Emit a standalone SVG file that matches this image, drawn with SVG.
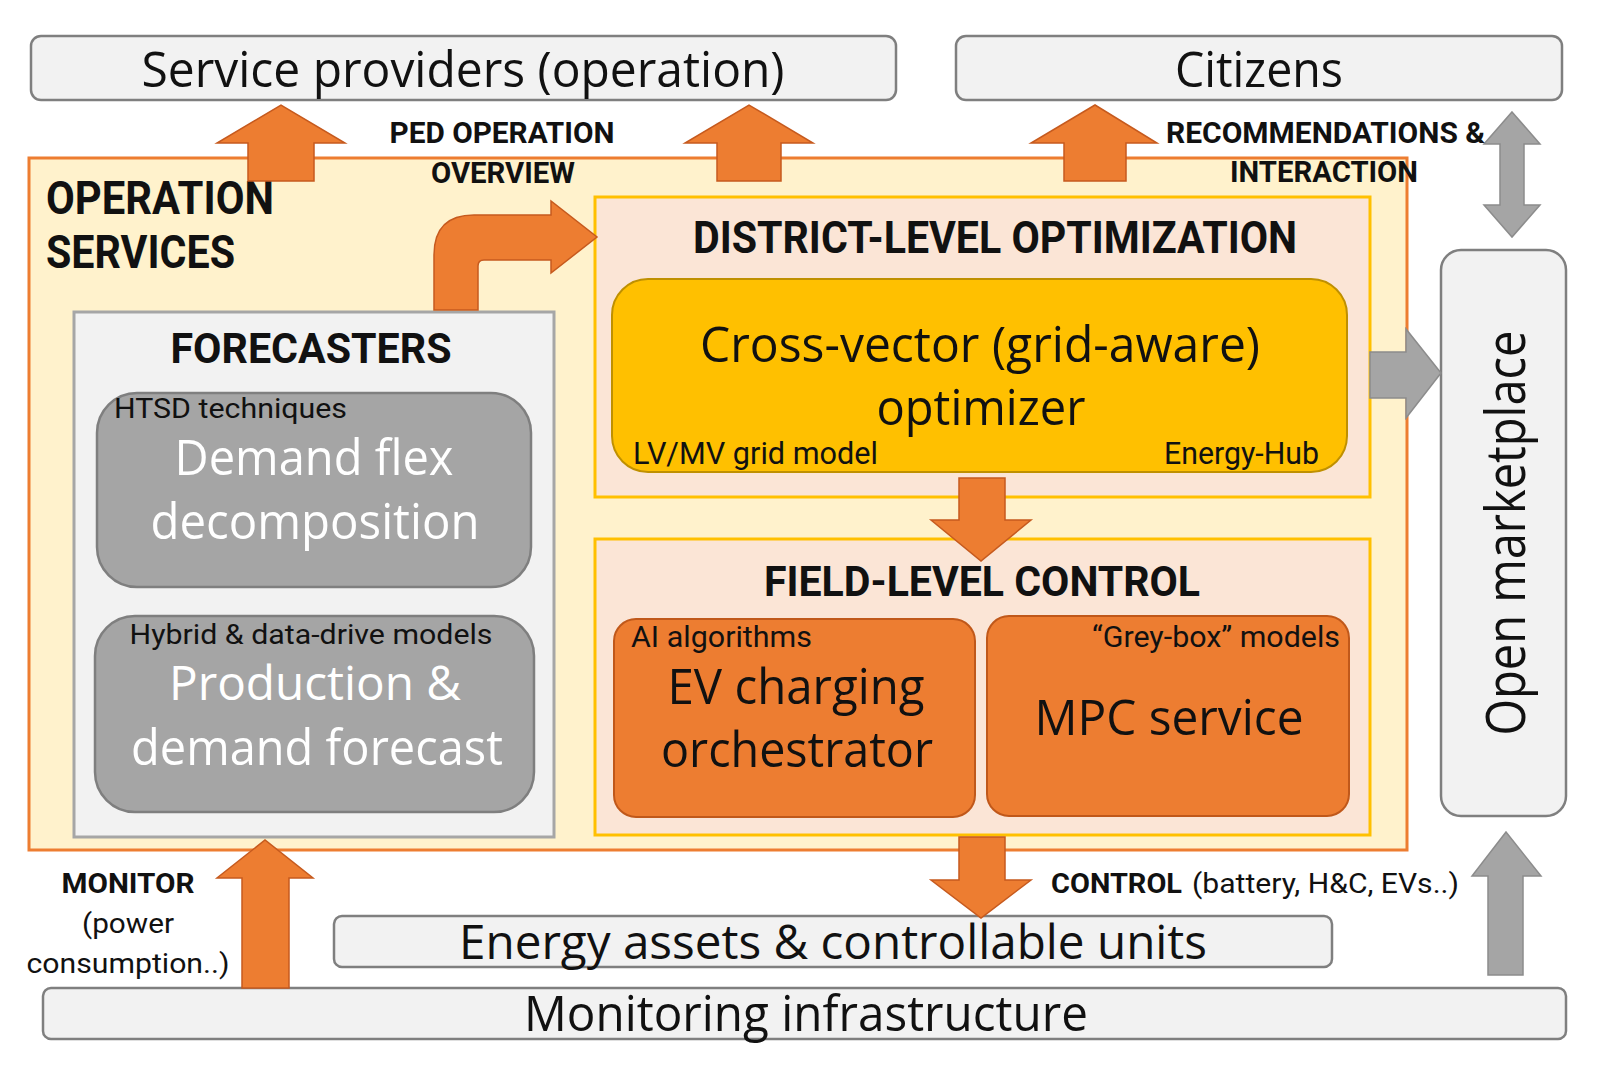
<svg xmlns="http://www.w3.org/2000/svg" width="1600" height="1068" viewBox="0 0 1600 1068">
<style>
.cal{font-family:'Open Sans','Noto Sans','Liberation Sans',sans-serif;fill:#111;}
.wht{fill:#fff;}
.rb{font-family:Roboto,'Liberation Sans',sans-serif;font-weight:bold;fill:#111;}
.rr{font-family:Roboto,'Liberation Sans',sans-serif;fill:#111;}
.mid{text-anchor:middle;}
.end{text-anchor:end;}
.lightbox{fill:#F2F2F2;stroke:#7F7F7F;stroke-width:2.5;}
.oarrow{fill:#ED7D31;stroke:#C65A1E;stroke-width:1.5;}
.garrow{fill:#A5A5A5;stroke:#8C8C8C;stroke-width:1.5;}
.inner{fill:#FBE5D6;stroke:#FFC000;stroke-width:3;}
.graynode{fill:#A5A5A5;stroke:#7F7F7F;stroke-width:2.5;}
.orangenode{fill:#ED7D31;stroke:#C0581A;stroke-width:2;}
</style>
<rect x="0" y="0" width="1600" height="1068" fill="#fff"/>

<g id="service-providers">
<rect class="lightbox" x="31" y="36" width="865" height="64" rx="10"/>
<text class="cal mid" x="463" y="87" font-size="50" textLength="643" lengthAdjust="spacingAndGlyphs">Service providers (operation)</text>
</g>
<g id="citizens">
<rect class="lightbox" x="956" y="36" width="606" height="64" rx="10"/>
<text class="cal mid" x="1259" y="87" font-size="50" textLength="168" lengthAdjust="spacingAndGlyphs">Citizens</text>
</g>

<g id="operation-services">
<rect x="29" y="158" width="1378" height="692" fill="#FFF2CC" stroke="#ED7D31" stroke-width="3"/>
<text class="rb" x="46" y="214" font-size="46" textLength="228" lengthAdjust="spacingAndGlyphs">OPERATION</text>
<text class="rb" x="46" y="268" font-size="46" textLength="189" lengthAdjust="spacingAndGlyphs">SERVICES</text>
</g>

<g id="forecasters">
<rect x="74" y="312" width="480" height="525" fill="#F2F2F2" stroke="#A6A6A6" stroke-width="3"/>
<text class="rb mid" x="311" y="363" font-size="43" textLength="281" lengthAdjust="spacingAndGlyphs">FORECASTERS</text>
</g>
<g id="demand-flex">
<rect class="graynode" x="97" y="393" width="434" height="194" rx="40"/>
<text class="rr" x="114" y="418" font-size="28" textLength="233" lengthAdjust="spacingAndGlyphs">HTSD techniques</text>
<text class="cal wht mid" x="314" y="475" font-size="50" textLength="279" lengthAdjust="spacingAndGlyphs">Demand flex</text>
<text class="cal wht mid" x="315" y="539" font-size="50" textLength="329" lengthAdjust="spacingAndGlyphs">decomposition</text>
</g>
<g id="production-forecast">
<rect class="graynode" x="95" y="616" width="439" height="196" rx="40"/>
<text class="rr mid" x="311" y="644" font-size="27" textLength="363" lengthAdjust="spacingAndGlyphs">Hybrid &amp; data-drive models</text>
<text class="cal wht mid" x="315" y="700" font-size="48" textLength="292" lengthAdjust="spacingAndGlyphs">Production &amp;</text>
<text class="cal wht mid" x="317" y="765" font-size="50" textLength="372" lengthAdjust="spacingAndGlyphs">demand forecast</text>
</g>

<g id="district-level">
<rect class="inner" x="595" y="197" width="775" height="300"/>
<text class="rb mid" x="995" y="253" font-size="44" textLength="604" lengthAdjust="spacingAndGlyphs">DISTRICT-LEVEL OPTIMIZATION</text>
</g>
<g id="optimizer">
<rect x="612" y="279" width="735" height="193" rx="36" fill="#FFC000" stroke="#BF9000" stroke-width="2"/>
<text class="cal mid" x="980" y="362" font-size="50" textLength="560" lengthAdjust="spacingAndGlyphs">Cross-vector (grid-aware)</text>
<text class="cal mid" x="981" y="425" font-size="50" textLength="209" lengthAdjust="spacingAndGlyphs">optimizer</text>
<text class="rr" x="633" y="464" font-size="31" textLength="245" lengthAdjust="spacingAndGlyphs">LV/MV grid model</text>
<text class="rr end" x="1319" y="464" font-size="31" textLength="155" lengthAdjust="spacingAndGlyphs">Energy-Hub</text>
</g>

<g id="field-level">
<rect class="inner" x="595" y="539" width="775" height="296"/>
<text class="rb mid" x="982" y="596" font-size="42" textLength="436" lengthAdjust="spacingAndGlyphs">FIELD-LEVEL CONTROL</text>
</g>
<g id="ev-charging">
<rect class="orangenode" x="614" y="619" width="361" height="198" rx="22"/>
<text class="rr" x="631" y="647" font-size="29" textLength="181" lengthAdjust="spacingAndGlyphs">AI algorithms</text>
<text class="cal mid" x="796" y="704" font-size="50" textLength="257" lengthAdjust="spacingAndGlyphs">EV charging</text>
<text class="cal mid" x="797" y="767" font-size="50" textLength="272" lengthAdjust="spacingAndGlyphs">orchestrator</text>
</g>
<g id="mpc-service">
<rect class="orangenode" x="987" y="616" width="362" height="200" rx="22"/>
<text class="rr end" x="1340" y="647" font-size="29" textLength="248" lengthAdjust="spacingAndGlyphs">“Grey-box” models</text>
<text class="cal mid" x="1169" y="735" font-size="50" textLength="269" lengthAdjust="spacingAndGlyphs">MPC service</text>
</g>

<g id="open-marketplace">
<rect class="lightbox" x="1441" y="250" width="125" height="566" rx="20"/>
<text class="cal mid" transform="translate(1525,533) rotate(-90)" x="0" y="0" font-size="54" textLength="405" lengthAdjust="spacingAndGlyphs">Open marketplace</text>
</g>

<g id="energy-assets">
<rect class="lightbox" x="334" y="916" width="998" height="51" rx="8"/>
<text class="cal mid" x="833" y="959" font-size="48" textLength="748" lengthAdjust="spacingAndGlyphs">Energy assets &amp; controllable units</text>
</g>
<g id="monitoring-infrastructure">
<rect class="lightbox" x="43" y="988" width="1523" height="51" rx="8"/>
<text class="cal mid" x="806" y="1031" font-size="50" textLength="564" lengthAdjust="spacingAndGlyphs">Monitoring infrastructure</text>
</g>

<g id="connectors">
<path class="oarrow" d="M248,181 L248,143 L217,143 L281,105 L345,143 L314,143 L314,181 Z"/>
<path class="oarrow" d="M717,181 L717,143 L685,143 L749,105 L813,143 L781,143 L781,181 Z"/>
<path class="oarrow" d="M1064,181 L1064,143 L1031,143 L1095,105 L1157,143 L1126,143 L1126,181 Z"/>
<path class="garrow" d="M1512,112 L1540,144 L1524,144 L1524,205 L1540,205 L1512,237 L1484,205 L1500,205 L1500,144 L1484,144 Z"/>
<path class="oarrow" d="M434,310 L434,255 Q434,215 474,215 L551,215 L551,201 L597,237 L551,273 L551,260 L484,260 Q478,260 478,266 L478,310 Z"/>
<path class="oarrow" d="M959,478 L1005,478 L1005,520 L1031,520 L981,561 L931,520 L959,520 Z"/>
<path class="oarrow" d="M959,837 L1005,837 L1005,880 L1031,880 L981,918 L931,880 L959,880 Z"/>
<path class="oarrow" d="M242,988 L242,878 L217,878 L265,840 L313,878 L289,878 L289,988 Z"/>
<path class="garrow" d="M1370,352 L1406,352 L1406,329 L1441,373 L1406,418 L1406,398 L1370,398 Z"/>
<path class="garrow" d="M1488,975 L1488,876 L1472,876 L1506,832 L1541,876 L1523,876 L1523,975 Z"/>
<text class="rb mid" x="502" y="143" font-size="29" textLength="225" lengthAdjust="spacingAndGlyphs">PED OPERATION</text>
<text class="rb mid" x="503" y="183" font-size="29" textLength="144" lengthAdjust="spacingAndGlyphs">OVERVIEW</text>
<text class="rb" x="1166" y="143" font-size="29" textLength="319" lengthAdjust="spacingAndGlyphs">RECOMMENDATIONS &amp;</text>
<text class="rb" x="1230" y="182" font-size="29" textLength="188" lengthAdjust="spacingAndGlyphs">INTERACTION</text>
<text class="rb" x="1051" y="893" font-size="28" textLength="131" lengthAdjust="spacingAndGlyphs">CONTROL</text>
<text class="rr" x="1192" y="893" font-size="28" textLength="267" lengthAdjust="spacingAndGlyphs">(battery, H&amp;C, EVs..)</text>
<text class="rb mid" x="128" y="893" font-size="28" textLength="133" lengthAdjust="spacingAndGlyphs">MONITOR</text>
<text class="rr mid" x="128" y="933" font-size="28" textLength="92" lengthAdjust="spacingAndGlyphs">(power</text>
<text class="rr mid" x="128" y="973" font-size="28" textLength="203" lengthAdjust="spacingAndGlyphs">consumption..)</text>
</g>
</svg>
